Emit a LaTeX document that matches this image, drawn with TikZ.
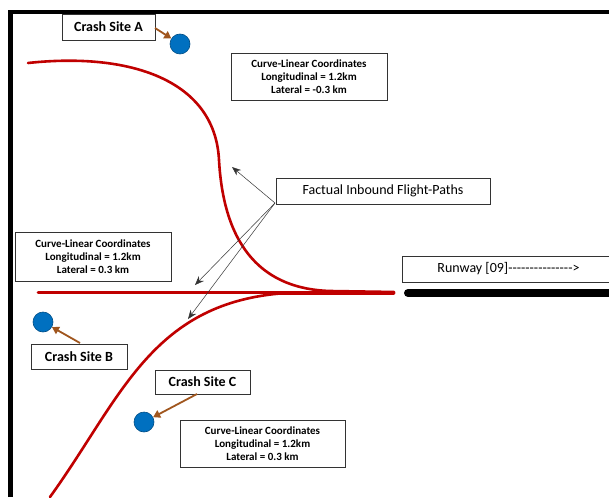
\documentclass[tikz,border=0pt]{standalone}
\usepackage{fontspec}
\setmainfont{Carlito}
\newfontfamily\plainfont{Carlito}[Ligatures=TeXOff]
\usetikzlibrary{arrows.meta}
\definecolor{pathred}{HTML}{C00000}
\definecolor{siteblue}{HTML}{0070C0}
\definecolor{sitebrown}{HTML}{A0561E}
\begin{document}
\begin{tikzpicture}[x=1pt,y=-1pt,
  lbl/.style={draw=black!80,line width=0.8pt,fill=white,inner sep=0pt,align=center},
  sitebox/.style={lbl,font=\bfseries\fontsize{14}{16}\selectfont},
  coordbox/.style={lbl,font=\bfseries\fontsize{11}{13.3}\selectfont},
  flight/.style={draw=pathred,line width=2.6pt,line cap=round},
  site/.style={circle,fill=siteblue,draw=siteblue!70!black,line width=0.6pt,minimum size=20pt,inner sep=0pt},
  brownarrow/.style={draw=sitebrown,line width=1.8pt,-{Triangle[length=7pt,width=8pt]}},
  callout/.style={draw=black!80,line width=0.5pt,-{Stealth[length=9pt,width=7pt]}}]
\useasboundingbox (0,0) rectangle (609,497);
\fill[white] (0,0) rectangle (609,497);
% frame
\draw[line width=4.5pt] (10.5,497) -- (10.5,12) -- (609,12);
% runway
\draw[line width=8pt,line cap=round] (408,293) -- (615,293);
% flight paths
\draw[flight] (28,63) .. controls (130,52) and (215,80) .. (219,160)
  .. controls (224,250) and (265,289) .. (330,291) -- (394,292);
\draw[flight] (38,292.5) -- (394,292.5);
\draw[flight] (50,497) .. controls (120,400) and (150,305) .. (280,293.5) -- (394,293.5);
% boxes
\node[sitebox,minimum width=93pt,minimum height=26pt] (boxA) at (108.5,27) {Crash Site A};
\node[sitebox,minimum width=96pt,minimum height=25pt] (boxB) at (79,356.5) {Crash Site B};
\node[sitebox,minimum width=95pt,minimum height=24pt] (boxC) at (202.5,382) {Crash Site C};
\node[coordbox,minimum width=156pt,minimum height=47pt] (coordA) at (309,76.5) {Curve-Linear Coordinates\\Longitudinal = 1.2km\\Lateral = -0.3 km};
\node[coordbox,minimum width=156pt,minimum height=49pt] (coordB) at (93,256.5) {Curve-Linear Coordinates\\Longitudinal = 1.2km\\Lateral = 0.3 km};
\node[coordbox,minimum width=165pt,minimum height=47pt] (coordC) at (262.5,443.5) {Curve-Linear Coordinates\\Longitudinal = 1.2km\\Lateral = 0.3 km};
\node[lbl,font=\fontsize{14}{16}\selectfont,minimum width=214pt,minimum height=26pt] (factual) at (383,191) {Factual Inbound Flight-Paths};
\node[lbl,font=\plainfont\fontsize{14}{16}\selectfont,minimum width=213pt,minimum height=26pt] (runway) at (508.5,269) {Runway [09]--------------->};
% crash sites
\node[site] (siteA) at (180,44) {};
\node[site] (siteB) at (43,322) {};
\node[site] (siteC) at (144,422) {};
% brown arrows
\coordinate (aS) at (155,28);
\coordinate (bS) at (80,343);
\coordinate (cS) at (197,394);
\draw[brownarrow] (aS) -- (siteA);
\draw[brownarrow] (bS) -- (siteB);
\draw[brownarrow] (cS) -- (siteC);
% callouts
\coordinate (fS) at (275,203);
\coordinate (t1) at (232,167);
\coordinate (t2) at (195,285);
\coordinate (t3) at (188,319);
\draw[callout] (fS) -- (t1);
\draw[callout] (fS) -- (t2);
\draw[callout] (fS) -- (t3);
\end{tikzpicture}
\end{document}
